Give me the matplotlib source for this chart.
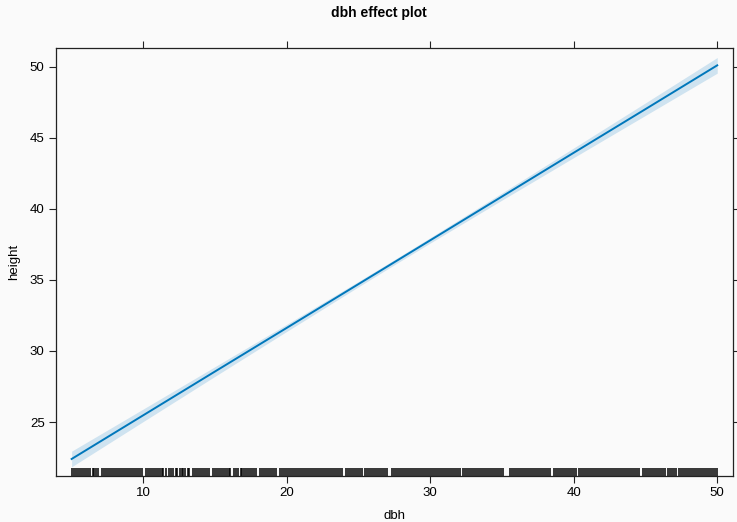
import matplotlib
matplotlib.use("Agg")
import matplotlib.pyplot as plt
from matplotlib.transforms import blended_transform_factory

# ---- data ----
dbh_grid = [5, 10, 15, 20, 25, 27.5, 30, 35, 40, 45, 50]
fit = [22.40, 25.48, 28.56, 31.63, 34.71, 36.25, 37.79, 40.87, 43.95, 47.02, 50.10]
lower = [21.85, 25.04, 28.22, 31.38, 34.52, 36.07, 37.60, 40.62, 43.61, 46.58, 49.55]
upper = [22.95, 25.92, 28.90, 31.88, 34.90, 36.43, 37.98, 41.12, 44.29, 47.46, 50.65]

rug_dbh = [
    5.02, 5.15, 5.31, 5.44, 5.60, 5.73, 5.88,
    6.03, 6.17, 6.29, 6.46, 6.58, 6.71, 6.85,
    7.12, 7.26, 7.38, 7.55, 7.67, 7.80, 7.94,
    8.09, 8.21, 8.36, 8.49, 8.63, 8.78, 8.92,
    9.05, 9.18, 9.33, 9.47, 9.60, 9.76, 9.90,
    10.18, 10.31, 10.45, 10.58, 10.72, 10.86, 10.99,
    11.13, 11.27, 11.40, 11.55, 11.82, 11.96,
    12.09, 12.24, 12.37, 12.52, 12.66, 12.79, 12.93,
    13.08, 13.21, 13.45, 13.58, 13.72, 13.86, 13.99,
    14.13, 14.27, 14.41, 14.55, 14.83, 14.97,
    15.10, 15.24, 15.39, 15.52, 15.66, 15.80, 15.94,
    16.07, 16.35, 16.49, 16.62, 16.77, 16.90,
    17.04, 17.18, 17.32, 17.46, 17.60, 17.74, 17.87,
    18.15, 18.29, 18.43, 18.56, 18.70, 18.84, 18.98,
    19.11, 19.25, 19.53, 19.67, 19.81, 19.95,
    20.08, 20.22, 20.36, 20.50, 20.64, 20.77, 20.91,
    21.05, 21.19, 21.33, 21.47, 21.61, 21.74, 21.88,
    22.02, 22.16, 22.30, 22.44, 22.58, 22.71, 22.85, 22.99,
    23.13, 23.27, 23.41, 23.55, 23.68, 23.82,
    24.10, 24.24, 24.38, 24.52, 24.65, 24.79, 24.93,
    25.07, 25.21, 25.45, 25.59, 25.73, 25.87,
    26.01, 26.15, 26.29, 26.43, 26.57, 26.71, 26.85, 26.99,
    27.30, 27.44, 27.58, 27.72, 27.86,
    28.00, 28.14, 28.28, 28.42, 28.56, 28.70, 28.84, 28.98,
    29.12, 29.26, 29.40, 29.54, 29.68, 29.82, 29.96,
    30.10, 30.24, 30.38, 30.52, 30.66, 30.80, 30.94,
    31.08, 31.22, 31.36, 31.50, 31.64, 31.78, 31.92,
    32.06, 32.30, 32.44, 32.58, 32.72, 32.86,
    33.00, 33.14, 33.28, 33.42, 33.56, 33.70, 33.84, 33.98,
    34.12, 34.26, 34.40, 34.54, 34.68, 34.82, 34.96,
    35.08, 35.55, 35.69, 35.83, 35.97,
    36.11, 36.25, 36.39, 36.53, 36.67, 36.81, 36.95,
    37.09, 37.23, 37.37, 37.51, 37.65, 37.79, 37.93,
    38.07, 38.21, 38.35, 38.65, 38.79, 38.93,
    39.07, 39.21, 39.35, 39.49, 39.63, 39.77, 39.91,
    40.05, 40.19, 40.33, 40.47, 40.61, 40.75, 40.89,
    41.03, 41.17, 41.31, 41.45, 41.59, 41.73, 41.87,
    42.01, 42.15, 42.29, 42.43, 42.62, 42.76, 42.90,
    43.04, 43.18, 43.32, 43.46, 43.60, 43.74, 43.88,
    44.02, 44.16, 44.30, 44.44, 44.58, 44.80, 44.94,
    45.08, 45.22, 45.36, 45.50, 45.64, 45.78, 45.92,
    46.06, 46.20, 46.34, 46.60, 46.74, 46.88,
    47.02, 47.16, 47.30, 47.44, 47.58, 47.72, 47.86,
    48.00, 48.14, 48.28, 48.42, 48.56, 48.70, 48.84, 48.98,
    49.12, 49.26, 49.40, 49.54, 49.68, 49.82, 49.96,
]

x_ticks = [10, 20, 30, 40, 50]
y_ticks = [25, 30, 35, 40, 45, 50]

# ---- style ----
plt.rcParams['font.family'] = ['Liberation Sans', 'DejaVu Sans']
bg = '#FAFAFA'
line_col = '#0077BB'
band_col = '#CFE3F0'
spine_col = '#222222'

fig = plt.figure(figsize=(7.37, 5.22), dpi=100, facecolor=bg)
ax = fig.add_axes([0.0756, 0.0881, 0.9190, 0.8205], facecolor=bg)

ax.fill_between(dbh_grid, lower, upper, color=band_col, lw=0, zorder=1)
ax.plot(dbh_grid, fit, color=line_col, lw=1.4, zorder=3)

trans = blended_transform_factory(ax.transData, ax.transAxes)
ax.vlines(rug_dbh, 0, 8 / 428.0, transform=trans, color='black', lw=1.1, zorder=2)

ax.set_xlim(3.89, 51.10)
ax.set_ylim(21.2, 51.34)
ax.set_xticks(x_ticks)
ax.set_yticks(y_ticks)
ax.tick_params(axis='both', direction='out', length=5, width=0.8, color=spine_col,
               labelsize=9.5, top=True, right=True, labeltop=False, labelright=False, pad=3)
for s in ax.spines.values():
    s.set_color(spine_col)
    s.set_linewidth(0.9)

ax.set_xlabel('dbh', fontsize=9.5, labelpad=7.5)
ax.set_ylabel('height', fontsize=9.5, labelpad=7)
fig.text(379 / 737, 1 - 13 / 522, 'dbh effect plot', ha='center', va='center',
         fontsize=10, fontweight='bold')

fig.savefig('out.png', dpi=100, facecolor=bg)
